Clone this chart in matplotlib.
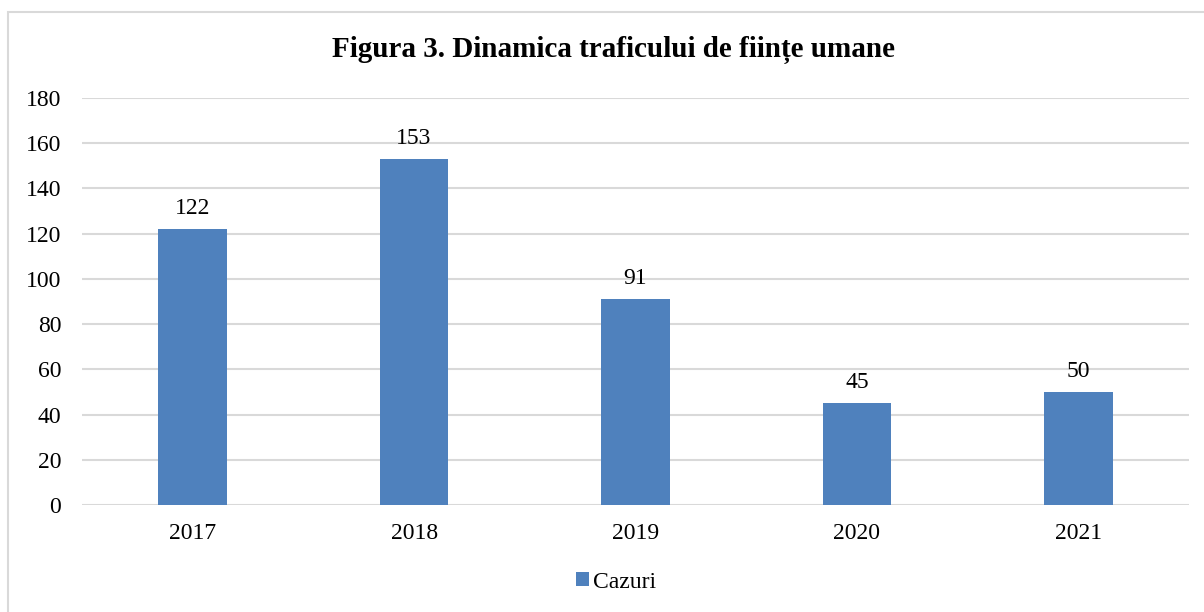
import matplotlib.pyplot as plt
from matplotlib.patches import Rectangle

# Data
years = ['2017', '2018', '2019', '2020', '2021']
cases = [122, 153, 91, 45, 50]
series_name = 'Cazuri'
title = 'Figura 3. Dinamica traficului de ființe umane'

bar_color = '#4f81bd'
grid_color = '#d9d9d9'

plt.rcParams['font.family'] = ['Liberation Serif', 'DejaVu Serif']

fig = plt.figure(figsize=(12.04, 6.12), dpi=100)
ax = fig.add_axes([0.0681, 0.1748, 0.9194, 0.6651])

# chart border (only left and top visible in the reference)
fig.patches.append(Rectangle((8 / 1204, -0.1), 1.2, 1 - 12 / 612 + 0.1,
                             transform=fig.transFigure, fill=False,
                             edgecolor='#d9d9d9', linewidth=1.5))

x = range(len(years))
bars = ax.bar(x, cases, width=0.31, color=bar_color, label=series_name, zorder=3)

for i, v in enumerate(cases):
    ax.text(i, v + 4.5, str(v), ha='center', va='bottom', fontsize=17)

ax.set_xlim(-0.5, len(years) - 0.5)
ax.set_ylim(0, 180)
ax.set_yticks(range(0, 181, 20))
ax.set_xticks(list(x))
ax.set_xticklabels(years)
ax.tick_params(axis='both', length=0, labelsize=17)
ax.tick_params(axis='x', pad=13)
ax.tick_params(axis='y', pad=15)
ax.grid(axis='y', color=grid_color, linewidth=1.5, zorder=0)
for s in ax.spines.values():
    s.set_visible(False)

fig.text(613 / 1204, 1 - 50 / 612, title, ha='center', va='center',
         fontsize=21, fontweight='bold')

fig.legend(handles=[bars], labels=[series_name], loc='center',
           bbox_to_anchor=(616 / 1204, 1 - 582 / 612), frameon=False,
           fontsize=17, handlelength=0.55, handleheight=0.55,
           handletextpad=0.2)

fig.savefig('out.png', dpi=100)
